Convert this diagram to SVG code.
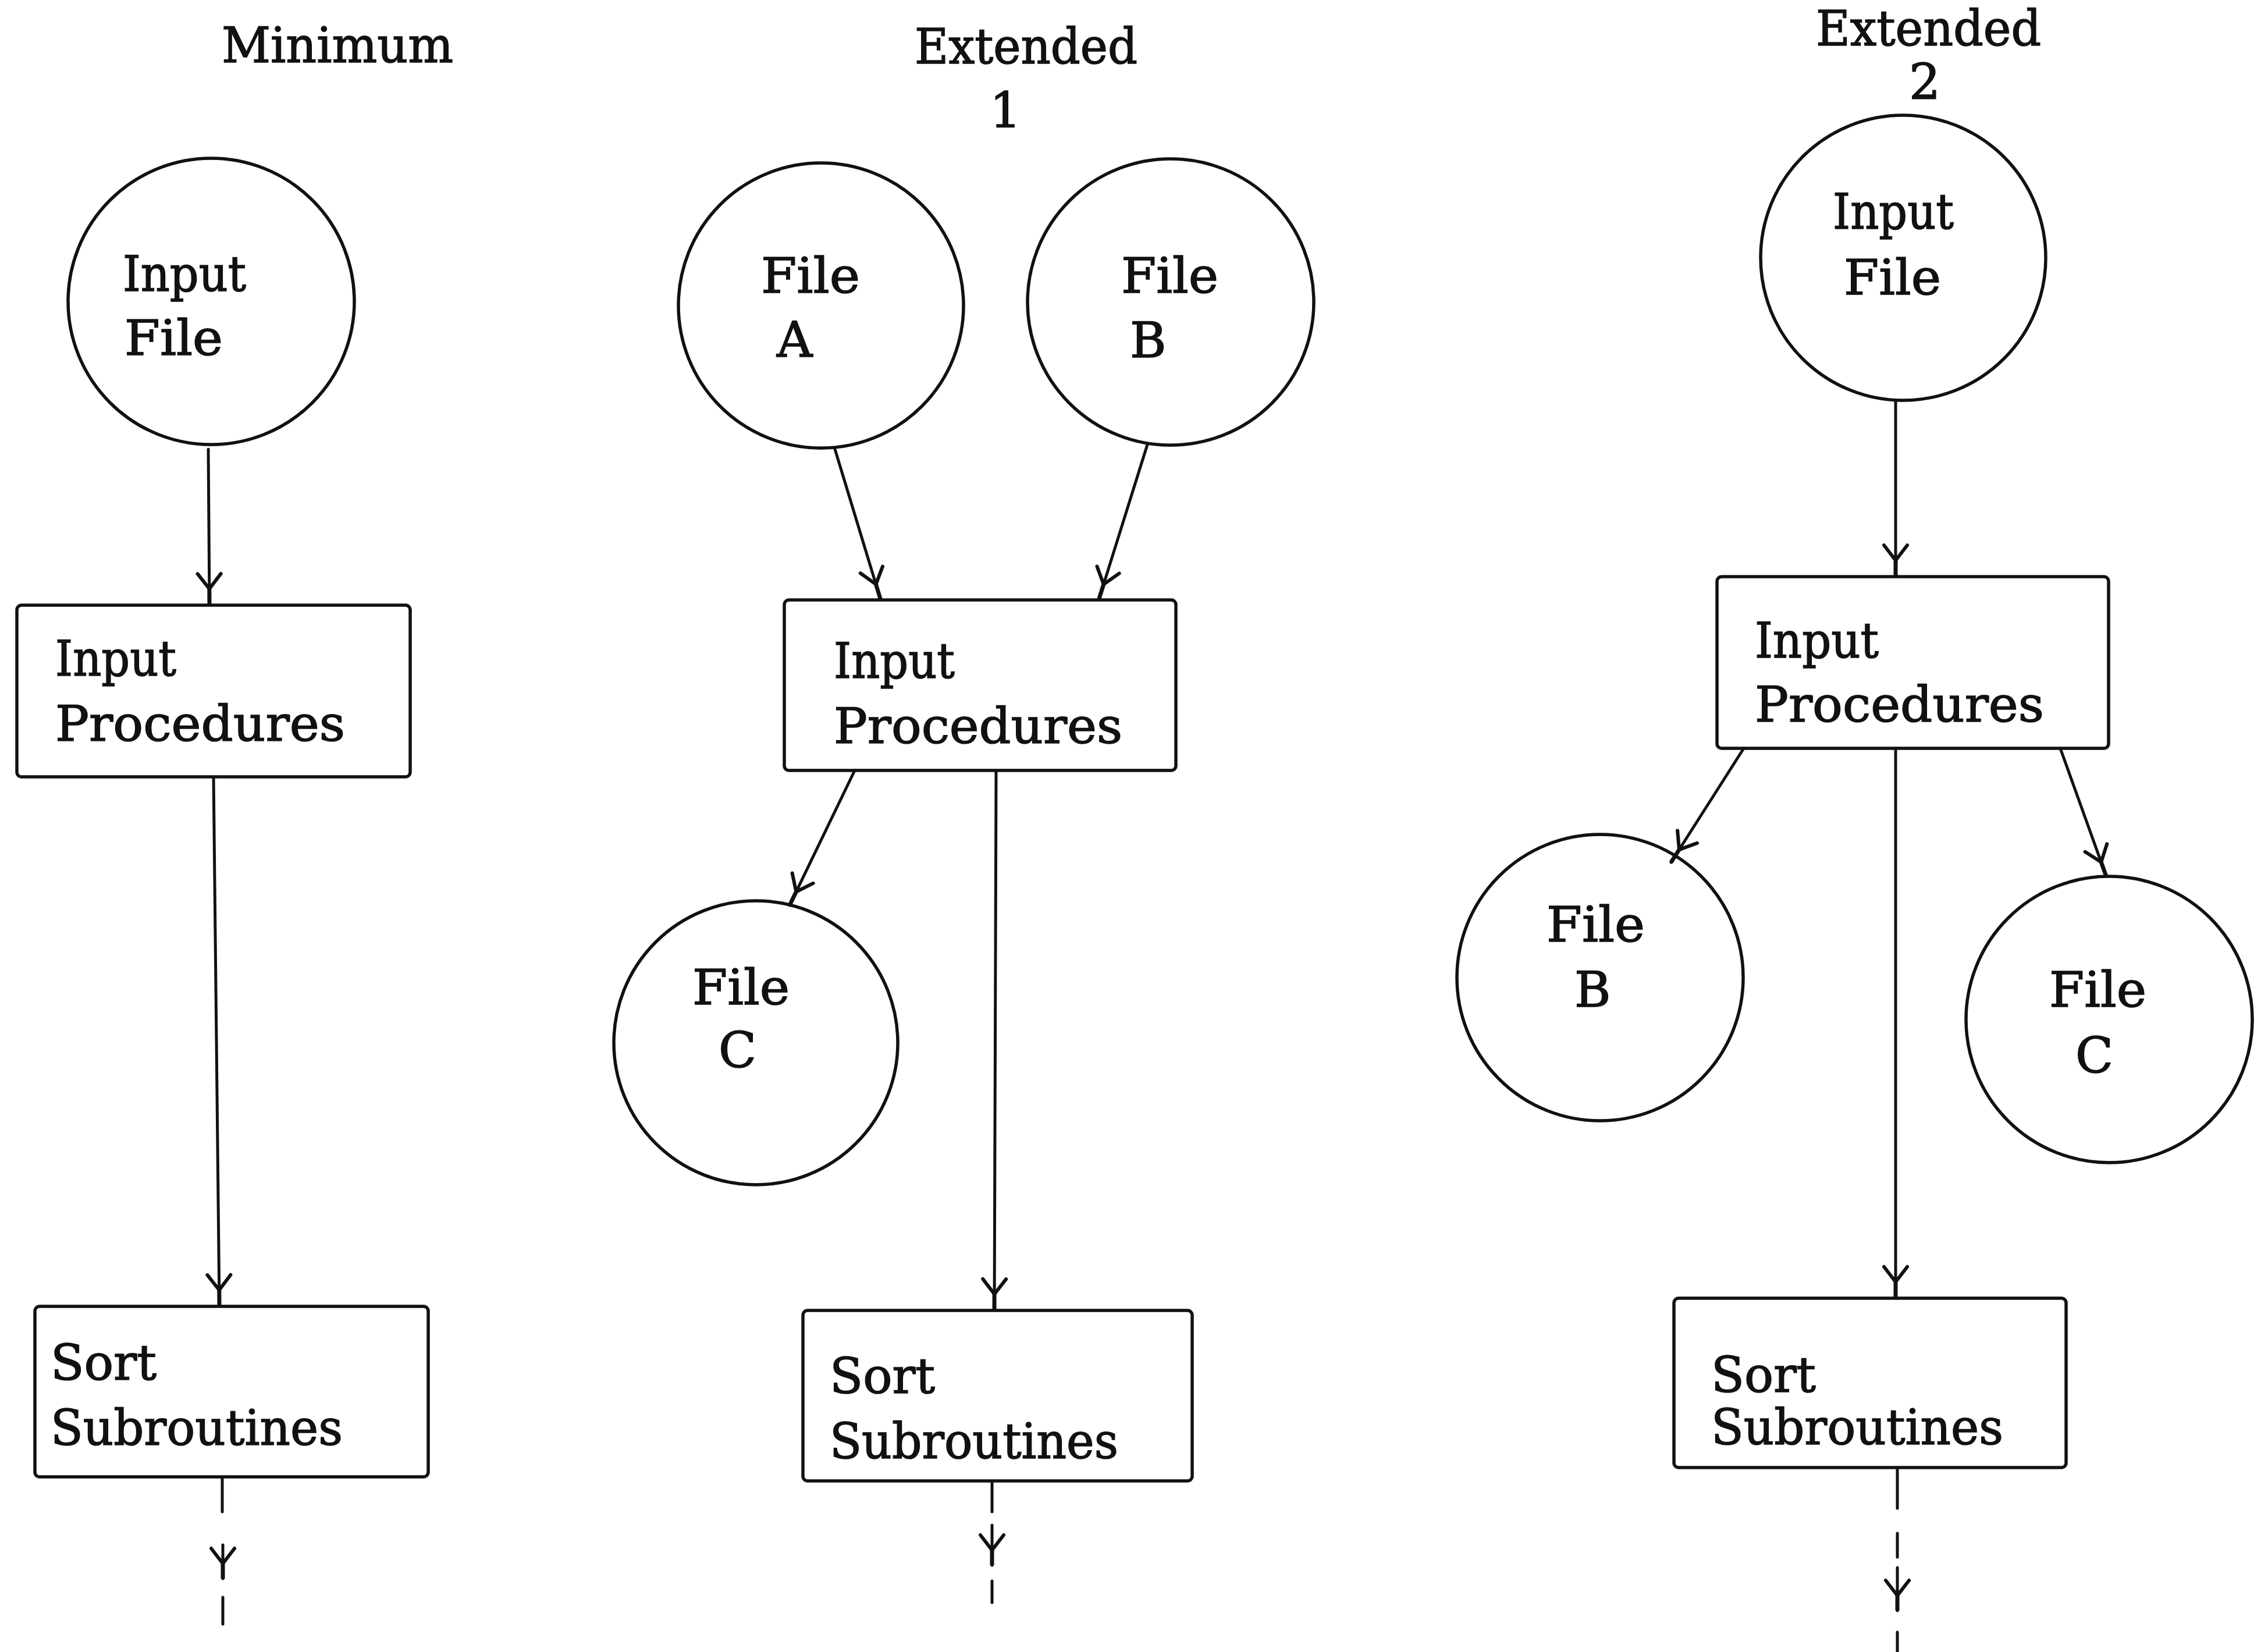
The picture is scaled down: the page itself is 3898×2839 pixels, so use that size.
<svg xmlns="http://www.w3.org/2000/svg" width="3898" height="2839" viewBox="0 0 3898 2839">
  <defs>
    <style>
      .bg { fill: #ffffff; }
      .node { fill: none; stroke: #111; stroke-width: 5.5; }
      .lbl { font-family: "DejaVu Serif", "Liberation Serif", serif; font-size: 85px; fill: #111; stroke: #111; stroke-width: 1.6; }
      .edge { fill: none; stroke: #111; stroke-width: 5; stroke-linecap: round; }
      .arr { marker-end: url(#head); }
    </style>
    <!-- Y-shaped open arrowhead: short wings meeting a little before the tip -->
    <marker id="head" markerUnits="userSpaceOnUse" orient="auto" refX="0" refY="0"
            markerWidth="60" markerHeight="60" overflow="visible">
      <path d="M-52,-20 L-26,0 L-52,20" fill="none" stroke="#111" stroke-width="6" stroke-linejoin="round" stroke-linecap="round"/>
      <path d="M-34,0 L0,0" fill="none" stroke="#111" stroke-width="7" stroke-linecap="butt"/>
    </marker>
  </defs>

  <rect class="bg" x="0" y="0" width="3898" height="2839"/>

  <!-- column headings -->
  <g id="headings">
    <text class="lbl" x="381" y="107" textLength="398" lengthAdjust="spacingAndGlyphs">Minimum</text>
    <text class="lbl" x="1572" y="109" textLength="383" lengthAdjust="spacingAndGlyphs">Extended</text>
    <text class="lbl" x="1701" y="219">1</text>
    <text class="lbl" x="3121" y="78" textLength="387" lengthAdjust="spacingAndGlyphs">Extended</text>
    <text class="lbl" x="3281" y="170">2</text>
  </g>

  <!-- Minimum -->
  <g id="min-input-file">
    <circle class="node" cx="363" cy="518" r="246"/>
    <text class="lbl" x="211" y="500" textLength="212" lengthAdjust="spacingAndGlyphs">Input</text>
    <text class="lbl" x="214" y="610" textLength="169" lengthAdjust="spacingAndGlyphs">File</text>
  </g>
  <g id="min-input-procedures">
    <rect class="node" x="29" y="1040" width="676" height="295" rx="8"/>
    <text class="lbl" x="95" y="1161" textLength="208" lengthAdjust="spacingAndGlyphs">Input</text>
    <text class="lbl" x="95" y="1273" textLength="498" lengthAdjust="spacingAndGlyphs">Procedures</text>
  </g>
  <g id="min-sort-subroutines">
    <rect class="node" x="60" y="2245" width="676" height="293" rx="8"/>
    <text class="lbl" x="87" y="2371" textLength="182" lengthAdjust="spacingAndGlyphs">Sort</text>
    <text class="lbl" x="87" y="2483" textLength="502" lengthAdjust="spacingAndGlyphs">Subroutines</text>
  </g>

  <!-- Extended 1 -->
  <g id="ext1-file-a">
    <circle class="node" cx="1411" cy="525" r="245"/>
    <text class="lbl" x="1308" y="503" textLength="170" lengthAdjust="spacingAndGlyphs">File</text>
    <text class="lbl" x="1335" y="613">A</text>
  </g>
  <g id="ext1-file-b">
    <circle class="node" cx="2012" cy="519" r="246"/>
    <text class="lbl" x="1927" y="503" textLength="167" lengthAdjust="spacingAndGlyphs">File</text>
    <text class="lbl" x="1942" y="614">B</text>
  </g>
  <g id="ext1-input-procedures">
    <rect class="node" x="1348" y="1031" width="673" height="293" rx="8"/>
    <text class="lbl" x="1433" y="1165" textLength="208" lengthAdjust="spacingAndGlyphs">Input</text>
    <text class="lbl" x="1433" y="1277" textLength="496" lengthAdjust="spacingAndGlyphs">Procedures</text>
  </g>
  <g id="ext1-file-c">
    <circle class="node" cx="1299" cy="1792" r="244"/>
    <text class="lbl" x="1190" y="1726" textLength="167" lengthAdjust="spacingAndGlyphs">File</text>
    <text class="lbl" x="1235" y="1834">C</text>
  </g>
  <g id="ext1-sort-subroutines">
    <rect class="node" x="1380" y="2252" width="669" height="293" rx="8"/>
    <text class="lbl" x="1426" y="2394" textLength="181" lengthAdjust="spacingAndGlyphs">Sort</text>
    <text class="lbl" x="1426" y="2506" textLength="496" lengthAdjust="spacingAndGlyphs">Subroutines</text>
  </g>

  <!-- Extended 2 -->
  <g id="ext2-input-file">
    <circle class="node" cx="3271" cy="443" r="245"/>
    <text class="lbl" x="3150" y="393" textLength="208" lengthAdjust="spacingAndGlyphs">Input</text>
    <text class="lbl" x="3169" y="506" textLength="167" lengthAdjust="spacingAndGlyphs">File</text>
  </g>
  <g id="ext2-input-procedures">
    <rect class="node" x="2951" y="991" width="673" height="295" rx="8"/>
    <text class="lbl" x="3016" y="1130" textLength="213" lengthAdjust="spacingAndGlyphs">Input</text>
    <text class="lbl" x="3016" y="1240" textLength="497" lengthAdjust="spacingAndGlyphs">Procedures</text>
  </g>
  <g id="ext2-file-b">
    <circle class="node" cx="2750" cy="1680" r="246"/>
    <text class="lbl" x="2658" y="1618" textLength="169" lengthAdjust="spacingAndGlyphs">File</text>
    <text class="lbl" x="2706" y="1730">B</text>
  </g>
  <g id="ext2-file-c">
    <circle class="node" cx="3625" cy="1752" r="246"/>
    <text class="lbl" x="3522" y="1730" textLength="167" lengthAdjust="spacingAndGlyphs">File</text>
    <text class="lbl" x="3567" y="1843">C</text>
  </g>
  <g id="ext2-sort-subroutines">
    <rect class="node" x="2877" y="2231" width="674" height="291" rx="8"/>
    <text class="lbl" x="2941" y="2392" textLength="180" lengthAdjust="spacingAndGlyphs">Sort</text>
    <text class="lbl" x="2941" y="2482" textLength="502" lengthAdjust="spacingAndGlyphs">Subroutines</text>
  </g>

  <!-- connectors -->
  <g id="connectors">
    <!-- Minimum -->
    <path class="edge arr" d="M358,772 L360,1038"/>
    <path class="edge arr" d="M367,1335 L377,2243"/>
    <path class="edge" d="M382,2538 L382,2598"/>
    <path class="edge arr" d="M383,2655 L383,2713"/>
    <path class="edge" d="M383,2745 L383,2791"/>

    <!-- Extended 1 -->
    <path class="edge arr" d="M1435,772 L1513,1029"/>
    <path class="edge arr" d="M1972,764 L1889,1029"/>
    <path class="edge arr" d="M1469,1324 L1357,1556"/>
    <path class="edge arr" d="M1712,1324 L1709,2250"/>
    <path class="edge" d="M1705,2548 L1705,2598"/>
    <path class="edge arr" d="M1705,2621 L1705,2690"/>
    <path class="edge" d="M1705,2717 L1705,2754"/>

    <!-- Extended 2 -->
    <path class="edge arr" d="M3258,688 L3258,989"/>
    <path class="edge arr" d="M2997,1286 L2872,1482"/>
    <path class="edge arr" d="M3541,1286 L3620,1506"/>
    <path class="edge arr" d="M3258,1286 L3258,2229"/>
    <path class="edge" d="M3261,2525 L3261,2592"/>
    <path class="edge" d="M3261,2635 L3261,2676"/>
    <path class="edge arr" d="M3261,2694 L3261,2768"/>
    <path class="edge" d="M3261,2805 L3261,2839"/>
  </g>
</svg>
